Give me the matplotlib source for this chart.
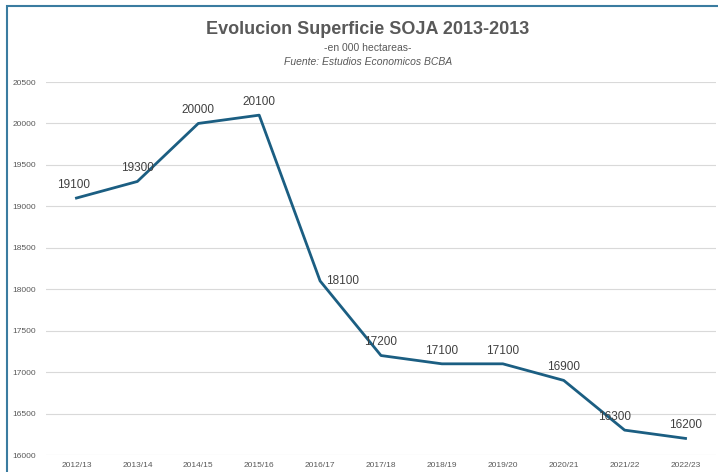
import matplotlib.pyplot as plt
from matplotlib.patches import Rectangle

campanas = ['2012/13', '2013/14', '2014/15', '2015/16', '2016/17', '2017/18',
            '2018/19', '2019/20', '2020/21', '2021/22', '2022/23']
superficie = [19100, 19300, 20000, 20100, 18100, 17200, 17100, 17100, 16900, 16300, 16200]
y_ticks = [16000, 16500, 17000, 17500, 18000, 18500, 19000, 19500, 20000, 20500]

# desplazamiento de cada etiqueta (en puntos)
offsets = [(-2, 9.5), (0, 9.5), (0, 9.5), (0, 9.5), (16, 0), (0, 9.5),
           (0, 9.5), (0, 9.5), (0, 9.5), (-7, 9.5), (0, 9.5)]

fuente = ['Liberation Sans', 'DejaVu Sans']
gris = '#595959'

fig = plt.figure(figsize=(7.18, 4.72), dpi=100)
ax = fig.add_axes([46 / 718, 1 - 455 / 472, 670 / 718, 373 / 472])

# borde del grafico
fig.patches.append(Rectangle((7 / 718, -0.1), 1.2, 1 - 6 / 472 + 0.1,
                             transform=fig.transFigure, fill=False,
                             edgecolor='#3a7ca0', linewidth=1.5))

x = range(len(campanas))
ax.plot(x, superficie, color='#1b5e82', linewidth=2)

for i, v in enumerate(superficie):
    ax.annotate(str(v), (i, v), xytext=offsets[i], textcoords='offset points',
                ha='center', va='center', fontsize=8.5, color='#404040', family=fuente)

ax.set_xlim(-0.5, len(campanas) - 0.5)
ax.set_ylim(16000, 20500)
ax.set_yticks(y_ticks)
ax.set_yticklabels([str(t) for t in y_ticks], family=fuente)
ax.set_xticks(list(x))
ax.set_xticklabels(campanas, family=fuente)
ax.tick_params(axis='both', length=0, labelsize=6, labelcolor=gris)
ax.tick_params(axis='y', pad=7)
ax.tick_params(axis='x', pad=5)
ax.grid(axis='y', color='#d9d9d9', linewidth=0.8)
ax.set_axisbelow(True)
for s in ax.spines.values():
    s.set_visible(False)

fig.text(368 / 718, 1 - 30 / 472, 'Evolucion Superficie SOJA 2013-2013', ha='center',
         va='center', fontsize=13, fontweight='bold', color=gris, family=fuente)
fig.text(368 / 718, 1 - 48 / 472, '-en 000 hectareas-', ha='center', va='center',
         fontsize=7.5, color=gris, family=fuente)
fig.text(368 / 718, 1 - 62 / 472, 'Fuente: Estudios Economicos BCBA', ha='center',
         va='center', fontsize=7.5, color=gris, style='italic', family=fuente)

fig.savefig('out.png', dpi=100)
